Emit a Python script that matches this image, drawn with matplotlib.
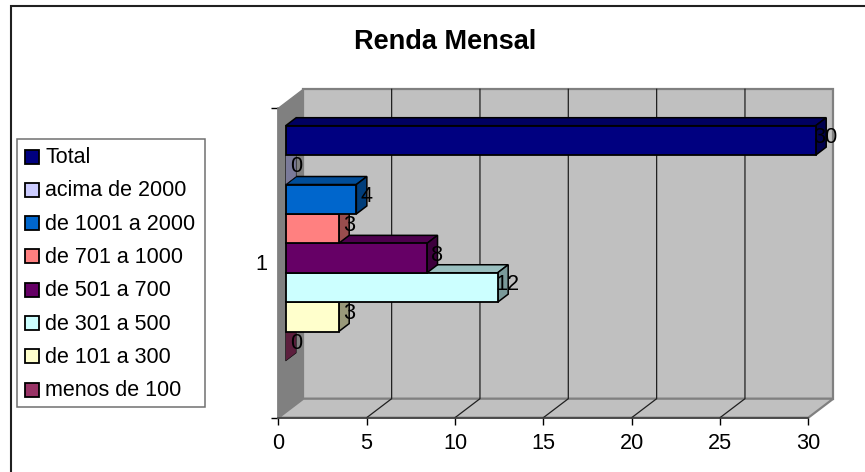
import matplotlib
matplotlib.use('Agg')
import matplotlib.pyplot as plt
from matplotlib.patches import Polygon, Rectangle

categories = ['menos de 100', 'de 101 a 300', 'de 301 a 500', 'de 501 a 700',
              'de 701 a 1000', 'de 1001 a 2000', 'acima de 2000', 'Total']
values = [0, 3, 12, 8, 3, 4, 0, 30]
colors = ['#993366', '#FFFFCC', '#CCFFFF', '#660066',
          '#FF8080', '#0066CC', '#CCCCFF', '#000080']
x_ticks = [0, 5, 10, 15, 20, 25, 30]

W, H = 865, 472
plt.rcParams['font.family'] = ['Liberation Sans', 'DejaVu Sans']
fs = 15.6


def shade(c, f):
    r, g, b = matplotlib.colors.to_rgb(c)
    return (r * f, g * f, b * f)


fig = plt.figure(figsize=(W / 100, H / 100), dpi=100)

# chart frame is cut off at right and bottom, only two lines are left
bg = fig.add_axes([0, 0, 1, 1])
bg.set_xlim(0, W)
bg.set_ylim(H, 0)
bg.axis('off')
bg.plot([11, 11, W], [H, 6, 6], color='#202020', lw=1.5, solid_joinstyle='miter')
bg.text(445.5, 42, 'Renda Mensal', ha='center', va='center', fontsize=19.5, fontweight='bold')

# legend
bg.add_patch(Rectangle((17, 139), 188, 268, fc='white', ec='#707070', lw=1.1))
for i, (name, col) in enumerate(zip(categories[::-1], colors[::-1])):
    cy = 156.5 + i * 33.3
    bg.add_patch(Rectangle((24.5, cy - 7), 14, 14, fc=col, ec='black', lw=1.3))
    bg.text(45, cy + 1, name, ha='left', va='center', fontsize=fs - 0.1)

# front plane of the 3d box
x0, x1, y_top, y_bot = 278.3, 808.3, 108.3, 417.7
ax = fig.add_axes([x0 / W, 1 - y_bot / H, (x1 - x0) / W, (y_bot - y_top) / H])
ax.patch.set_visible(False)
slot = 29.4
ax.set_xlim(0, 30)
ax.set_ylim(-(y_bot - 346.3) / slot, 7 + (140.4 - y_top) / slot)
ux = 30 / (x1 - x0)
uy = 1 / slot

# box depth and bar depth, in pixels
dx, dy = 25, 19
bx, by = 10.5, 8
ox = 7.4 * ux
ylo, yhi = ax.get_ylim()
wx, wy = dx * ux, dy * uy


def poly(pts, fc, ec='none', lw=0, z=1):
    ax.add_patch(Polygon(pts, closed=True, fc=fc, ec=ec, lw=lw, zorder=z, clip_on=False))


poly([(wx, ylo + wy), (30 + wx, ylo + wy), (30 + wx, yhi + wy), (wx, yhi + wy)], '#C0C0C0', '#808080', 1.6)
poly([(0, ylo), (wx, ylo + wy), (wx, yhi + wy), (0, yhi)], '#808080', '#808080', 1)
poly([(0, ylo), (30, ylo), (30 + wx, ylo + wy), (wx, ylo + wy)], '#C0C0C0', '#808080', 1.6)
for t in x_ticks[1:-1]:
    ax.plot([t, t + wx, t + wx], [ylo, ylo + wy, yhi + wy], color='#202020', lw=0.9, zorder=2, clip_on=False)

# bars, upper ones are drawn over the tops of the lower ones
hb = bx * ux
vb = by * uy
for i, (v, c) in enumerate(zip(values, colors)):
    lo, hi = i - 0.5, i + 0.5
    z = 3 + i * 0.1
    lw_side = 1.1 if v > 0 else 0.4
    poly([(ox, hi), (ox + v, hi), (ox + v + hb, hi + vb), (ox + hb, hi + vb)], shade(c, 0.75), 'black', lw_side, z)
    poly([(ox + v, lo), (ox + v + hb, lo + vb), (ox + v + hb, hi + vb), (ox + v, hi)], shade(c, 0.6), 'black', lw_side, z)
    if v > 0:
        ax.barh(i, v, height=1, left=ox, color=c, edgecolor='black', linewidth=1.3, zorder=z, clip_on=False)
    ax.text(ox + v + 10 * ux, i + 3 * uy, str(v), ha='center', va='center', fontsize=fs, zorder=10, clip_on=False)

ax.set_xticks(x_ticks)
ax.set_yticks([ylo, yhi])
ax.set_yticklabels([])
ax.tick_params(axis='x', length=5, width=1, color='black', labelsize=fs, pad=6)
ax.tick_params(axis='y', length=5, width=1, color='black')
for s in ['top', 'right']:
    ax.spines[s].set_visible(False)
ax.spines['left'].set_color('#808080')
ax.spines['left'].set_linewidth(1.2)
ax.spines['bottom'].set_color('#404040')
ax.spines['bottom'].set_linewidth(1.2)
ax.text(-0.021, 0.495, '1', transform=ax.transAxes, ha='right', va='center', fontsize=fs)

fig.savefig('out.png', dpi=100)
